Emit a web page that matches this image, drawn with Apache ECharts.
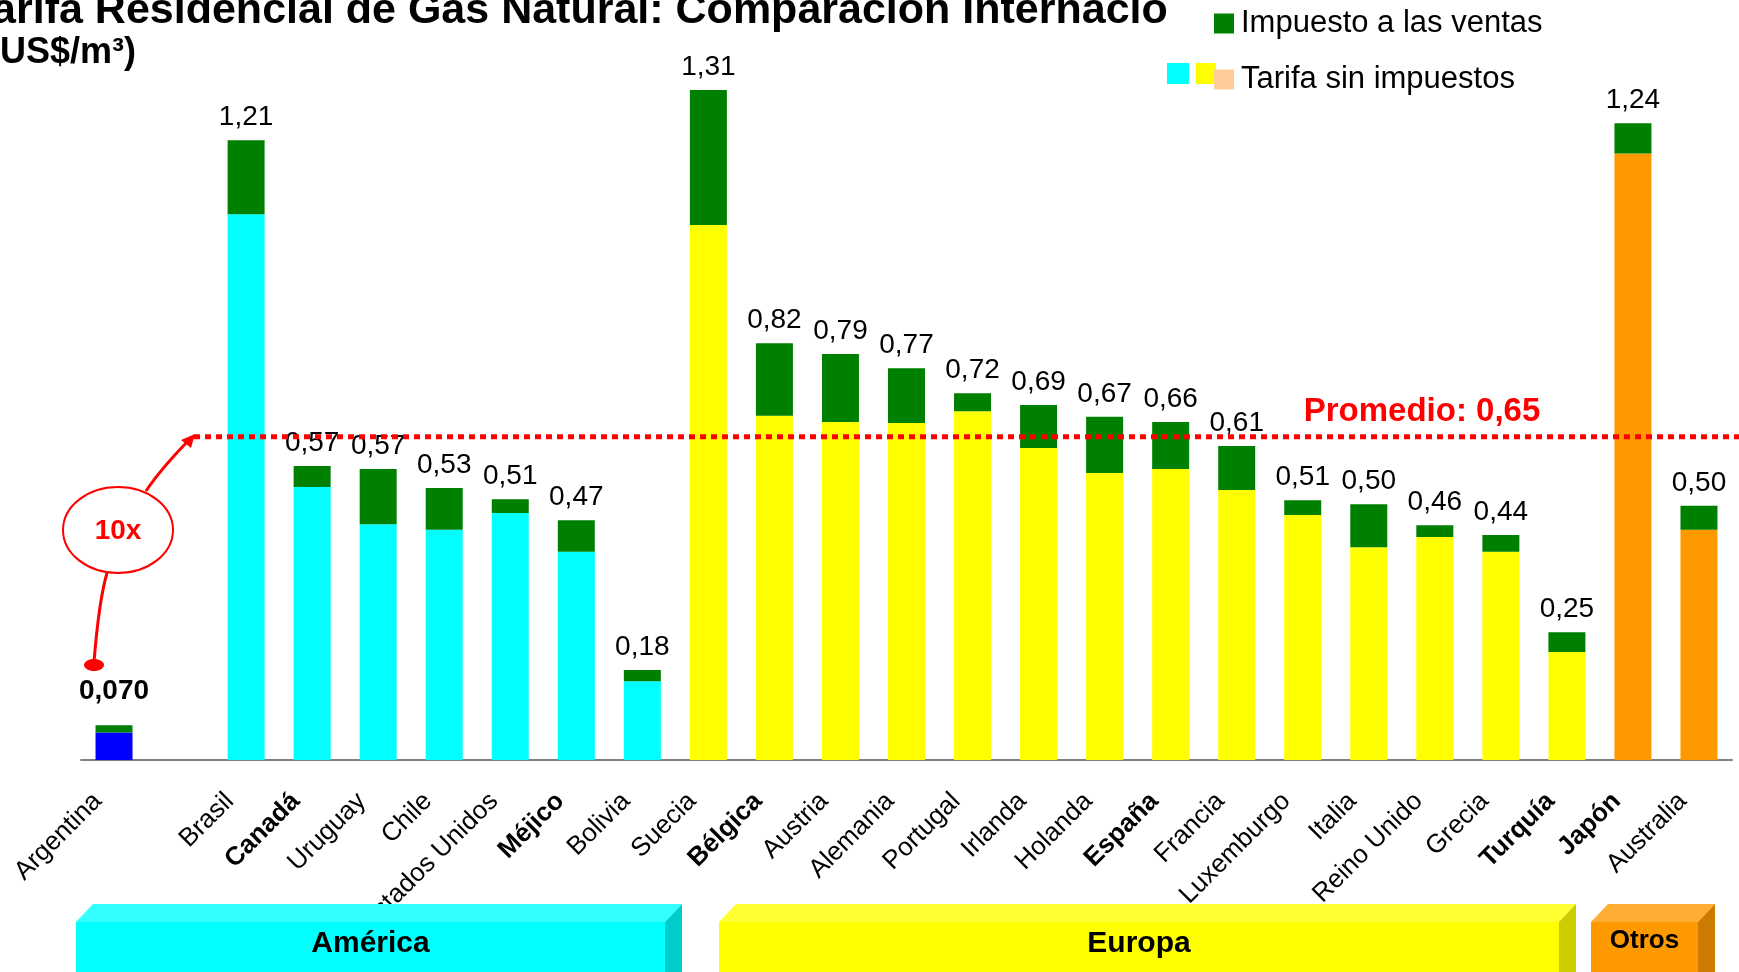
<!DOCTYPE html>
<html><head><meta charset="utf-8">
<script src="https://cdn.jsdelivr.net/npm/echarts/dist/echarts.min.js"></script>
<style>html,body{margin:0;padding:0;background:#fff;overflow:hidden}#c{width:1739px;height:972px}</style>
</head><body><div id="c"></div><script>
// ---------- data ----------
const titleLines = ['Tarifa Residencial de Gas Natural: Comparación Internacional', '(US$/m³)'];
const categories = ['Argentina', '', 'Brasil', 'Canadá', 'Uruguay', 'Chile', 'Estados Unidos', 'Méjico', 'Bolivia',
  'Suecia', 'Bélgica', 'Austria', 'Alemania', 'Portugal', 'Irlanda', 'Holanda', 'España', 'Francia', 'Luxemburgo',
  'Italia', 'Reino Unido', 'Grecia', 'Turquía', 'Japón', 'Australia'];
const regionOf = ['ARG', '', 'AM', 'AM', 'AM', 'AM', 'AM', 'AM', 'AM',
  'EU', 'EU', 'EU', 'EU', 'EU', 'EU', 'EU', 'EU', 'EU', 'EU', 'EU', 'EU', 'EU', 'EU', 'OT', 'OT'];
const tarifaSinImpuestos = [0.054, null, 1.067, 0.534, 0.461, 0.450, 0.483, 0.407, 0.154,
  1.046, 0.673, 0.661, 0.659, 0.682, 0.610, 0.561, 0.569, 0.528, 0.479, 0.416, 0.436, 0.407, 0.211, 1.186, 0.450];
const impuestoVentas = [0.014, null, 0.145, 0.041, 0.108, 0.082, 0.027, 0.062, 0.022,
  0.264, 0.142, 0.133, 0.107, 0.035, 0.084, 0.110, 0.092, 0.086, 0.029, 0.084, 0.023, 0.033, 0.039, 0.059, 0.047];
const totalLabels = [0.070, null, 1.21, 0.57, 0.57, 0.53, 0.51, 0.47, 0.18,
  1.31, 0.82, 0.79, 0.77, 0.72, 0.69, 0.67, 0.66, 0.61, 0.51, 0.50, 0.46, 0.44, 0.25, 1.24, 0.50];
const boldCountries = ['Canadá', 'Méjico', 'Bélgica', 'España', 'Turquía', 'Japón'];
const promedioLine = 0.632;
const promedioText = 'Promedio: 0,65';
const annotationText = '10x';
const regionNames = ['América', 'Europa', 'Otros'];
const seriesNames = ['Impuesto a las ventas', 'Tarifa sin impuestos'];

// ---------- styles ----------
const FONT = 'Liberation Sans, Arial, sans-serif';
const regionColor = { ARG: '#0000FF', AM: '#00FFFF', EU: '#FFFF00', OT: '#FF9900', '': '#00FFFF' };
const fmt = v => (v < 0.1 ? v.toFixed(3) : v.toFixed(2)).replace('.', ',');

const chart = echarts.init(document.getElementById('c'), null, { renderer: 'canvas' });

const option = {
  animation: false,
  backgroundColor: '#ffffff',
  textStyle: { fontFamily: FONT },
  title: {
    text: '{a|' + titleLines[0] + '}\n{b|' + titleLines[1] + '}',
    left: -31, top: -11, padding: 0, z: 6,
    textStyle: {
      fontFamily: FONT, fontWeight: 'bold', color: '#000',
      rich: {
        a: { fontFamily: FONT, fontSize: 43, fontWeight: 'bold', color: '#000', lineHeight: 44 },
        b: { fontFamily: FONT, fontSize: 36, fontWeight: 'bold', color: '#000', lineHeight: 40, padding: [0, 0, 0, 19] }
      }
    }
  },
  legend: {
    orient: 'vertical', left: 1214, top: 8, padding: 0, itemGap: 25, z: 10,
    itemWidth: 20, itemHeight: 20, icon: 'rect',
    textStyle: { fontFamily: FONT, fontSize: 31, color: '#000', padding: [0, 0, 0, 2] },
    data: [
      { name: seriesNames[0], itemStyle: { color: '#008000' } },
      { name: seriesNames[1], itemStyle: { color: '#FFCC99' } }
    ]
  },
  grid: { left: 81, right: 7, top: 44, bottom: 212, outerBoundsMode: 'none', containLabel: false },
  xAxis: {
    type: 'category', data: categories,
    axisLine: { lineStyle: { color: '#808080', width: 2 } },
    axisTick: { show: false },
    axisLabel: {
      interval: 0, rotate: 45, margin: 21, hideOverlap: false,
      padding: [0, 23, 0, 0],
      formatter: v => boldCountries.includes(v) ? '{b|' + v + '}' : '{n|' + v + '}',
      rich: {
        n: { fontFamily: FONT, fontSize: 26, color: '#000' },
        b: { fontFamily: FONT, fontSize: 26, color: '#000', fontWeight: 'bold' }
      }
    }
  },
  yAxis: { type: 'value', min: 0, max: 1.4, show: false, splitLine: { show: false } },
  series: [
    {
      name: seriesNames[1], type: 'bar', stack: 'total', barWidth: 37,
      itemStyle: { color: '#FFCC99' },
      data: tarifaSinImpuestos.map((v, i) => ({ value: v, itemStyle: { color: regionColor[regionOf[i]] } }))
    },
    {
      name: seriesNames[0], type: 'bar', stack: 'total', barWidth: 37,
      itemStyle: { color: '#008000' },
      label: {
        show: true, position: 'top', distance: 9, fontFamily: FONT, fontSize: 28, color: '#000',
        formatter: p => totalLabels[p.dataIndex] == null ? '' : fmt(totalLabels[p.dataIndex])
      },
      data: impuestoVentas.map((v, i) => i === 0
        ? { value: v, label: { fontWeight: 'bold', distance: 20 } }
        : { value: v })
    }
  ]
};
chart.setOption(option);

// ---------- annotations (average line placed through the y scale) ----------
const yLine = chart.convertToPixel({ yAxisIndex: 0 }, promedioLine);
const red = '#FF0000';
function box(x1, x2, front, top, side, label, fs, ty) {
  const yF = 922, yT = 904, d = 17, yB = 980;
  return [
    { type: 'rect', z: 50, shape: { x: x1, y: yF, width: x2 - x1, height: yB - yF }, style: { fill: front } },
    { type: 'polygon', z: 50, shape: { points: [[x1, yF], [x1 + d, yT], [x2 + d, yT], [x2, yF]] }, style: { fill: top } },
    { type: 'polygon', z: 50, shape: { points: [[x2, yF], [x2 + d, yT], [x2 + d, yB], [x2, yB]] }, style: { fill: side } },
    { type: 'text', z: 51, x: (x1 + x2) / 2, y: ty, style: { text: label, fill: '#000', font: 'bold ' + fs + 'px ' + FONT, align: 'center', verticalAlign: 'middle' } }
  ];
}
const graphics = [
  // white cover clipping the title on the right
  { type: 'rect', z: 8, shape: { x: 1168, y: 0, width: 571, height: 46 }, style: { fill: '#fff' } },
  // extra legend swatches
  { type: 'rect', z: 3, shape: { x: 1167, y: 63, width: 22, height: 21 }, style: { fill: '#00FFFF' } },
  { type: 'rect', z: 3, shape: { x: 1196, y: 63, width: 20, height: 21 }, style: { fill: '#FFFF00' } },
  // average line
  { type: 'line', z: 40, shape: { x1: 194, y1: yLine, x2: 1739, y2: yLine }, style: { stroke: red, lineWidth: 5, lineDash: [6, 5] } },
  { type: 'text', z: 41, x: 1422, y: yLine - 25, style: { text: promedioText, fill: red, font: 'bold 33px ' + FONT, align: 'center', verticalAlign: 'middle' } },
  // 10x annotation
  { type: 'ellipse', z: 40, shape: { cx: 118, cy: 530, rx: 55, ry: 43 }, style: { fill: '#fff', stroke: red, lineWidth: 2 } },
  { type: 'text', z: 41, x: 118, y: 531, style: { text: annotationText, fill: red, font: 'bold 28px ' + FONT, align: 'center', verticalAlign: 'middle' } },
  { type: 'bezierCurve', z: 40, shape: { x1: 146, y1: 491, x2: 188, y2: 441, cpx1: 160, cpy1: 470 }, style: { stroke: red, lineWidth: 3, fill: null } },
  { type: 'polygon', z: 40, shape: { points: [[195, 434], [191, 448], [181, 440]] }, style: { fill: red } },
  { type: 'bezierCurve', z: 40, shape: { x1: 107, y1: 573, x2: 94, y2: 662, cpx1: 99, cpy1: 600 }, style: { stroke: red, lineWidth: 3, fill: null } },
  { type: 'ellipse', z: 40, shape: { cx: 94, cy: 665, rx: 10, ry: 6 }, style: { fill: red } }
].concat(
  box(76, 665, '#00FFFF', '#33FFFF', '#00CCCC', regionNames[0], 30, 944),
  box(719, 1559, '#FFFF00', '#FFFF33', '#CCCC00', regionNames[1], 30, 944),
  box(1591, 1698, '#FF9900', '#FFAD33', '#CC7A00', regionNames[2], 26, 941)
);
chart.setOption({ graphic: { elements: graphics } });
</script></body></html>
